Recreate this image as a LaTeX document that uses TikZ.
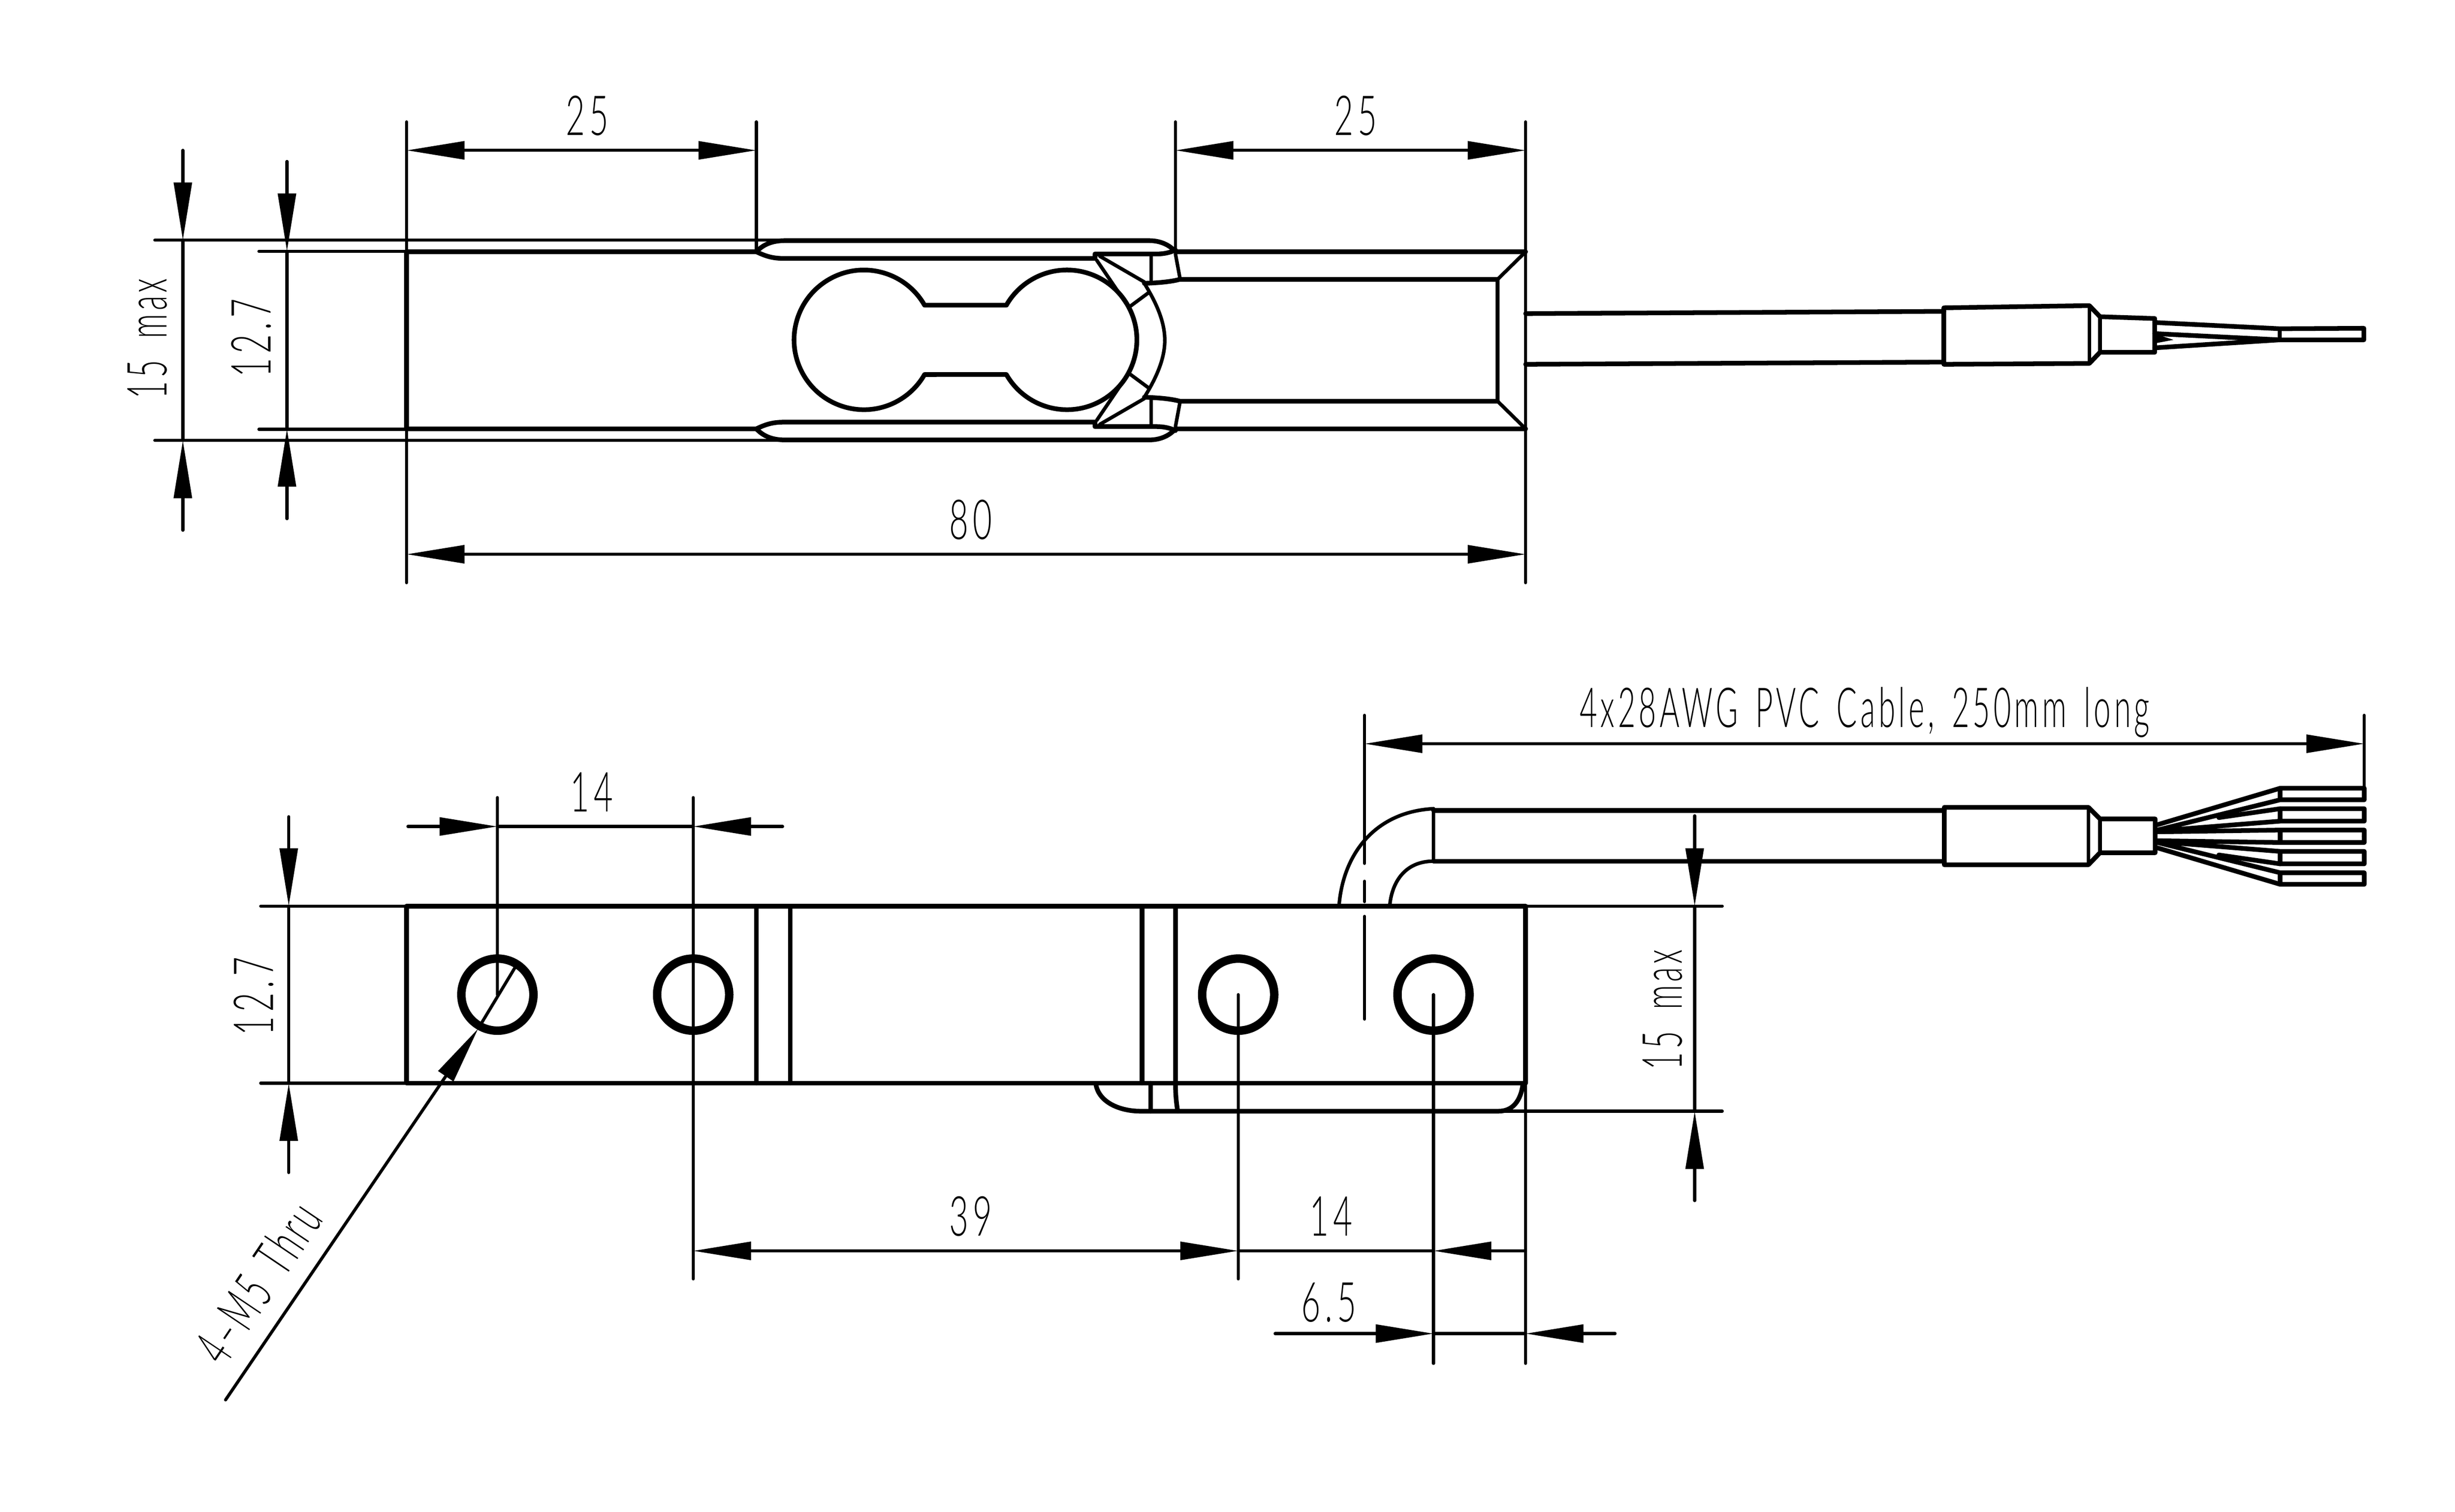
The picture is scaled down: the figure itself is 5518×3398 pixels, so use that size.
\documentclass[tikz,border=0pt]{standalone}
\usepackage{fontspec}
\setmainfont{Lato}[UprightFont=* Light,FakeStretch=0.6,LetterSpace=8]
\newfontfamily\notefont{Lato}[UprightFont=* Light,FakeStretch=0.55,LetterSpace=6,WordSpace=1.5]
\usetikzlibrary{arrows.meta}

\tikzset{
	thinline/.style={line width=0.7pt, line cap=round},
	thickline/.style={line width=1.05pt, line cap=round, line join=round},
	midline/.style={line width=0.8pt, line cap=round, line join=round},
	holeline/.style={line width=1.9pt},
	dimlabel/.style={font=\fontsize{12.4}{12.4}\selectfont, inner sep=0pt},
	notelabel/.style={font=\notefont\fontsize{12.4}{12.4}\selectfont, inner sep=0pt},
	>={Triangle[length=13pt,width=4pt]}
}

\begin{document}
\begin{tikzpicture}[x=0.1pt, y=-0.1pt]
	\useasboundingbox (0,0) rectangle (5518,3398);

	% top view, upper half and lower half
	\foreach \s in {1,-1} {
		\begin{scope}[shift={(0,765)}, yscale=\s, shift={(0,-765)}]
			\draw [thickline] (914,566) -- (1700,566) .. controls (1725,578) and (1740,581) .. (1764,581) -- (2461,581) -- (2461,571) -- (2600,571) .. controls (2615,571) and (2630,568) .. (2642,562);
			\draw [thickline] (1700,566) .. controls (1715,550) and (1735,541) .. (1764,541) -- (2583,541) .. controls (2610,541) and (2630,552) .. (2642,566) -- (3429,566);
			\draw [midline] (2642,571) -- (2652,625);
			\draw [thickline] (2572,637) .. controls (2600,636) and (2630,634) .. (2652,628) -- (3366,628);
			\draw [midline] (2587,571) -- (2587,634);
			\draw [midline] (2472,576) -- (2572,634);
			\draw [midline] (2465,585) -- (2537,691) -- (2583,657);
			\draw [midline] (2572,637) .. controls (2605,690) and (2618,730) .. (2618,765);
			\draw [midline] (3366,628) -- (3425,570);
			\draw [thinline] (582,565) -- (914,565);
			\draw [thinline] (348,540) -- (1764,540);
		\end{scope}
	}
	\draw [thickline] (914,566) -- (914,964);
	\draw [midline] (3366,628) -- (3366,901);
	\draw [thickline] (2078,686) arc [start angle=-29.8, end angle=-330.2, radius=157] -- (2262,842) arc [start angle=150.2, end angle=-150.2, radius=157] -- cycle;

	% cable of the top view
	\draw [thickline] (3429,705) -- (4369,700);
	\draw [thickline] (3429,819) -- (4369,814);
	\draw [thickline] (4369,692) -- (4696,687) -- (4720,712) -- (4843,716) -- (4843,792) -- (4720,792) -- (4696,817) -- (4369,819) -- cycle;
	\draw [midline] (4696,692) -- (4696,812);
	\draw [midline] (4720,716) -- (4720,788);
	\draw [thickline] (4843,725) -- (5124,739) -- (5313,738) -- (5313,764) -- (5124,764) -- (4843,782);
	\draw [thickline] (4843,750) -- (5124,764);
	\draw [midline] (5124,739) -- (5124,764);
	\fill (4843,750) -- (4885,764) -- (4843,772) -- cycle;

	% dimensions of the top view
	\draw [thinline] (914,274) -- (914,1310);
	\draw [thinline] (1700,274) -- (1700,566);
	\draw [thinline] (2642,274) -- (2642,566);
	\draw [thinline] (3429,274) -- (3429,1310);
	\draw [thinline, <->] (914,338) -- (1700,338);
	\draw [thinline, <->] (2642,338) -- (3429,338);
	\draw [thinline, <->] (914,1246) -- (3429,1246);
	\draw [thinline, ->] (411,338) -- (411,540);
	\draw [thinline, ->] (411,1192) -- (411,990);
	\draw [thinline] (411,540) -- (411,990);
	\draw [thinline, ->] (645,363) -- (645,565);
	\draw [thinline, ->] (645,1166) -- (645,964);
	\draw [thinline] (645,565) -- (645,964);
	\node (top25a) [dimlabel] at (1320,260) {25};
	\node (top25b) [dimlabel] at (3047,260) {25};
	\node (top80) [dimlabel] at (2182,1168) {80};
	\node (top15) [notelabel, rotate=90] at (331,761) {15\hspace{1pt} max};
	\node (top127) [dimlabel, rotate=90] at (565,760) {12.7};

	% front view
	\draw [thickline] (914,2037) rectangle (3429,2435);
	\draw [thickline] (1700,2037) -- (1700,2435);
	\draw [thickline] (1776,2037) -- (1776,2435);
	\draw [thickline] (2567,2037) -- (2567,2435);
	\draw [thickline] (2642,2037) -- (2642,2435) .. controls (2642,2460) and (2644,2480) .. (2647,2498);
	\draw [thickline] (2586,2435) -- (2586,2498);
	\draw [thickline] (2463,2437) .. controls (2470,2480) and (2520,2498) .. (2563,2498) -- (3368,2498) .. controls (3400,2498) and (3418,2475) .. (3423,2437);
	\foreach \x/\name in {1118/a,1558/b,2783/c,3222/d} {
		\node (hole\name) [circle, minimum size=0pt, inner sep=0pt] at (\x,2236) {};
		\draw [holeline] (\x,2236) circle (81);
	}

	% cable of the front view
	\draw [thickline] (3222,1822) -- (4370,1822);
	\draw [thickline] (3222,1936) -- (4370,1936);
	\draw [midline] (3222,1818) -- (3222,1936);
	\draw [midline] (3010,2032) .. controls (3020,1920) and (3090,1825) .. (3222,1818);
	\draw [midline] (3124,2032) .. controls (3130,1980) and (3160,1936) .. (3222,1936);
	\draw [thickline] (4370,1815) -- (4694,1815) -- (4720,1841) -- (4844,1841) -- (4844,1917) -- (4720,1917) -- (4694,1944) -- (4370,1944) -- cycle;
	\draw [midline] (4694,1815) -- (4694,1944);
	\draw [midline] (4720,1841) -- (4720,1917);
	\foreach \s in {1,-1} {
		\begin{scope}[shift={(0,1880)}, yscale=\s, shift={(0,-1880)}]
			\draw [thickline] (5125,1798) -- (5125,1772) -- (5314,1772) -- (5314,1798) -- (5125,1798) -- (4849,1866);
			\draw [thickline] (4849,1854) -- (5125,1772);
			\draw [thickline] (5125,1846) -- (5125,1818) -- (5314,1818) -- (5314,1846) -- (5125,1846) -- (4849,1868);
			\draw [thickline] (4987,1838) -- (5125,1818);
			\draw [thickline] (4849,1870) -- (5125,1866) -- (5314,1866) -- (5314,1880);
		\end{scope}
	}
	\draw [thickline] (5125,1866) -- (5125,1892);

	% dimensions of the front view
	\draw [thinline] (586,2037) -- (914,2037);
	\draw [thinline] (586,2435) -- (914,2435);
	\draw [thinline] (3429,2037) -- (3871,2037);
	\draw [thinline] (3368,2498) -- (3871,2498);
	\draw [thinline] (3429,2435) -- (3429,3065);
	\draw [thinline] (1118,1793) -- (1118,2236);
	\draw [thinline] (1558,1793) -- (1558,2875);
	\draw [thinline] (2783,2236) -- (2783,2875);
	\draw [thinline] (3222,2236) -- (3222,3065);
	\draw [thinline] (3067,1608) -- (3067,1941);
	\draw [thinline] (3067,1981) -- (3067,2027);
	\draw [thinline] (3067,2060) -- (3067,2291);
	\draw [thinline] (5314,1608) -- (5314,1772);
	\draw [thinline, <->] (3067,1672) -- (5314,1672);
	\draw [thinline, ->] (649,1836) -- (649,2037);
	\draw [thinline, ->] (649,2636) -- (649,2435);
	\draw [thinline] (649,2037) -- (649,2435);
	\draw [thinline, ->] (917,1858) -- (1118,1858);
	\draw [thinline, ->] (1759,1858) -- (1558,1858);
	\draw [thinline] (1118,1858) -- (1558,1858);
	\draw [thinline, <->] (1558,2812) -- (2783,2812);
	\draw [thinline] (2783,2812) -- (3222,2812);
	\draw [thinline, ->] (3429,2812) -- (3222,2812);
	\draw [thinline, ->] (2866,2998) -- (3222,2998);
	\draw [thinline, ->] (3630,2998) -- (3429,2998);
	\draw [thinline] (3222,2998) -- (3429,2998);
	\draw [thinline, ->] (3809,1834) -- (3809,2037);
	\draw [thinline, ->] (3809,2699) -- (3809,2498);
	\draw [thinline] (3809,2037) -- (3809,2498);
	\draw [thinline] (1157,2176) -- (1075,2312);
	\draw [thinline, ->] (507,3147) -- (1075,2312);
	\node (frontcable) [notelabel] at (4191,1601) {4x28AWG PVC Cable, 250mm long};
	\node (front14a) [dimlabel] at (1330,1781) {14};
	\node (front127) [dimlabel, rotate=90] at (570,2240) {12.7};
	\node (front15) [notelabel, rotate=90] at (3737,2270) {15\hspace{1pt} max};
	\node (front39) [dimlabel] at (2182,2734) {39};
	\node (front14b) [dimlabel] at (2992,2734) {14};
	\node (front65) [dimlabel] at (2987,2928) {6.5};
	\node (frontthru) [notelabel, rotate=56] at (580,2883) {4–M5 Thru};
\end{tikzpicture}
\end{document}
